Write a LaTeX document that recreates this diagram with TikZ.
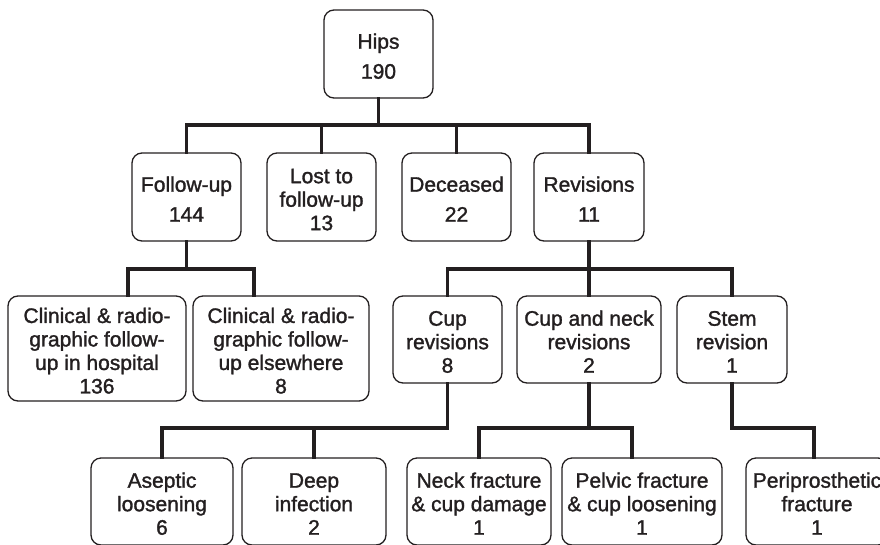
\documentclass[tikz,border=0pt]{standalone}
\usepackage{fontspec}
\setmainfont{Liberation Sans}
\newfontfamily\boxfont[FakeBold=1.4]{Liberation Sans}
\definecolor{ink}{HTML}{231F20}
\newcommand\boxtxt[1]{\raisebox{-5pt}[\height][\depth]{\begin{tabular}{@{}c@{}}#1\end{tabular}}}
\begin{document}
\begin{tikzpicture}[x=1pt,y=-1pt,
  box/.style={draw=ink, line width=1.3pt, rounded corners=10pt,
    inner sep=0pt, text=ink, font=\boxfont\fontsize{21}{23.5}\selectfont},
  conn/.style={draw=ink, line width=3.3pt, line cap=rect}]
\useasboundingbox (0,0) rectangle (880,544);
% level 0
\node[box, minimum width=109pt, minimum height=88pt] (hips) at (378.5,54) {\boxtxt{Hips\\[6.5pt]190}};
% level 1
\node[box, minimum width=109pt, minimum height=88pt] (fu)   at (186.5,197) {\boxtxt{Follow-up\\[6.5pt]144}};
\node[box, minimum width=109pt, minimum height=88pt] (lost) at (321.5,197) {\boxtxt{Lost to\\follow-up\\13}};
\node[box, minimum width=109pt, minimum height=88pt] (dec)  at (456.5,197) {\boxtxt{Deceased\\[6.5pt]22}};
\node[box, minimum width=110pt, minimum height=88pt] (rev)  at (589,197) {\boxtxt{Revisions\\[6.5pt]11}};
% level 2
\node[box, minimum width=178pt, minimum height=105pt] (cl1) at (97,348.5) {\boxtxt{Clinical \& radio-\\graphic follow-\\up in hospital\\136}};
\node[box, minimum width=176pt, minimum height=105pt] (cl2) at (281,348.5) {\boxtxt{Clinical \& radio-\\graphic follow-\\up elsewhere\\8}};
\node[box, minimum width=109pt, minimum height=87pt] (cup)  at (447.5,339.5) {\boxtxt{Cup\\revisions\\8}};
\node[box, minimum width=144pt, minimum height=87pt] (cn)   at (589,339.5) {\boxtxt{Cup and neck\\revisions\\2}};
\node[box, minimum width=110pt, minimum height=87pt] (stem) at (732,339.5) {\boxtxt{Stem\\revision\\1}};
% level 3
\node[box, minimum width=142pt, minimum height=87pt] (asep) at (162,501.5) {\boxtxt{Aseptic\\loosening\\6}};
\node[box, minimum width=144pt, minimum height=87pt] (deep) at (314,501.5) {\boxtxt{Deep\\infection\\2}};
\node[box, minimum width=144pt, minimum height=87pt] (neck) at (479,501.5) {\boxtxt{Neck fracture\\\& cup damage\\1}};
\node[box, minimum width=160pt, minimum height=87pt] (pelv) at (642,501.5) {\boxtxt{Pelvic fracture\\\& cup loosening\\1}};
\node[box, minimum width=142pt, minimum height=87pt] (peri) at (817,501.5) {\boxtxt{Periprosthetic\\fracture\\1}};
% bus levels
\coordinate (b1) at (0,125);
\coordinate (b2) at (0,269);
\coordinate (b3) at (0,428);
% hips -> level 1
\draw[conn] (hips.south) -- (hips.south |- b1);
\draw[conn] (fu.north |- b1) -- (rev.north |- b1);
\foreach \n in {fu,lost,dec,rev} \draw[conn] (\n.north) -- (\n.north |- b1);
% follow-up -> clinical
\coordinate (c1) at ([xshift=31pt]cl1.north);
\coordinate (c2) at ([xshift=-27pt]cl2.north);
\draw[conn] (fu.south) -- (fu.south |- b2);
\draw[conn] (c1 |- b2) -- (c2 |- b2);
\draw[conn] (c1) -- (c1 |- b2);
\draw[conn] (c2) -- (c2 |- b2);
% revisions -> level 2
\draw[conn] (rev.south) -- (rev.south |- b2);
\draw[conn] (cup.north |- b2) -- (stem.north |- b2);
\foreach \n in {cup,cn,stem} \draw[conn] (\n.north) -- (\n.north |- b2);
% cup -> level 3
\draw[conn] (cup.south) -- (cup.south |- b3) -- (asep.north |- b3) -- (asep.north);
\draw[conn] (deep.north) -- (deep.north |- b3);
% cup and neck -> level 3
\coordinate (p1) at ([xshift=-10pt]pelv.north);
\draw[conn] (cn.south) -- (cn.south |- b3);
\draw[conn] (neck.north) -- (neck.north |- b3) -- (p1 |- b3) -- (p1);
% stem -> periprosthetic
\coordinate (q1) at ([xshift=-3pt]peri.north);
\draw[conn] (stem.south) -- (stem.south |- b3) -- (q1 |- b3) -- (q1);
\end{tikzpicture}
\end{document}
